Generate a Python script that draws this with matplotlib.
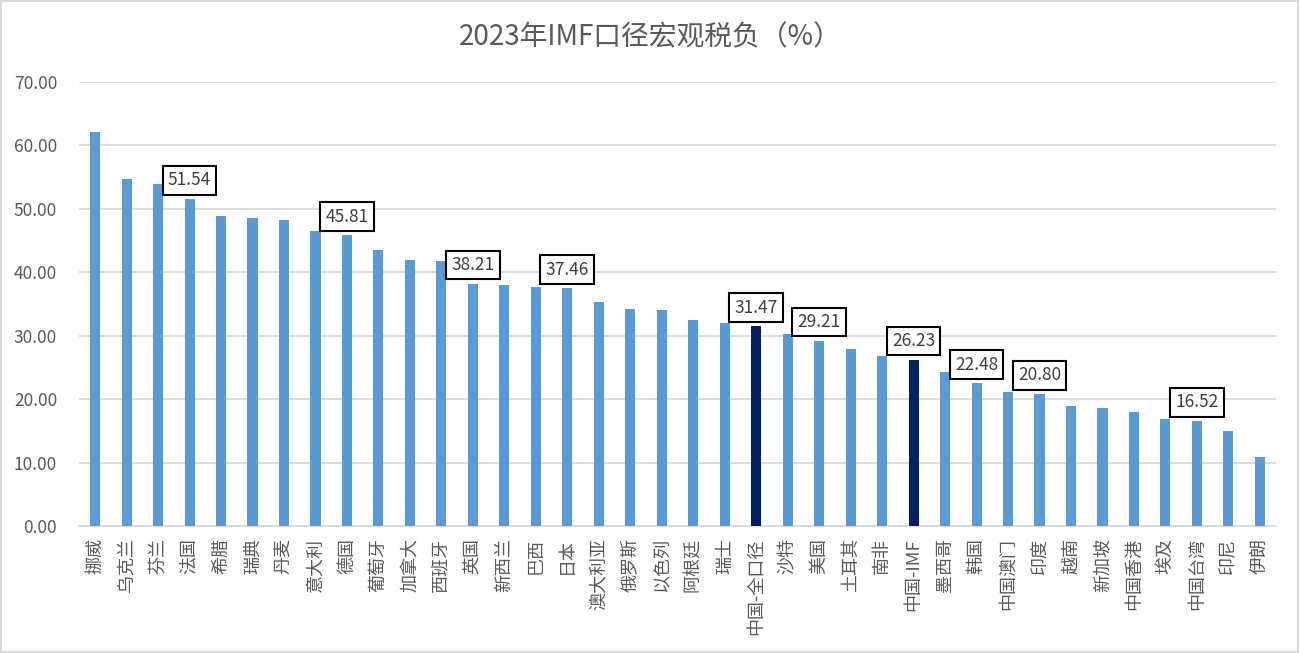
import numpy as np
import matplotlib.pyplot as plt
from matplotlib.patches import Rectangle

plt.rcParams['font.family'] = ['Noto Sans CJK SC', 'DejaVu Sans']

countries = ['挪威', '乌克兰', '芬兰', '法国', '希腊', '瑞典', '丹麦', '意大利', '德国',
             '葡萄牙', '加拿大', '西班牙', '英国', '新西兰', '巴西', '日本', '澳大利亚',
             '俄罗斯', '以色列', '阿根廷', '瑞士', '中国-全口径', '沙特', '美国', '土耳其',
             '南非', '中国-IMF', '墨西哥', '韩国', '中国澳门', '印度', '越南', '新加坡',
             '中国香港', '埃及', '中国台湾', '印尼', '伊朗']
tax_burden = [62.1, 54.7, 53.9, 51.54, 48.9, 48.6, 48.2, 46.5, 45.81,
              43.5, 41.9, 41.8, 38.21, 38.0, 37.7, 37.46, 35.3,
              34.2, 34.05, 32.5, 32.0, 31.47, 30.3, 29.21, 27.9,
              26.8, 26.23, 24.3, 22.48, 21.1, 20.80, 18.9, 18.6,
              18.0, 16.9, 16.52, 15.0, 10.9]
# which bars get a boxed value label
labelled = ['法国', '德国', '英国', '日本', '中国-全口径', '美国', '中国-IMF', '韩国', '印度', '中国台湾']
highlight = ['中国-全口径', '中国-IMF']

fig = plt.figure(figsize=(13.01, 6.53), dpi=100)
ax = fig.add_axes([0.061, 0.1945, 0.9195, 0.68])

x = np.arange(len(countries))
colors = ['#002060' if c in highlight else '#5b9bd5' for c in countries]
ax.bar(x, tax_burden, width=0.32, color=colors, zorder=3)

for i, c in enumerate(countries):
    if c in labelled:
        ax.annotate(f'{tax_burden[i]:.2f}', (x[i], tax_burden[i]), xytext=(0, 7),
                    textcoords='offset points', ha='center', va='bottom',
                    fontsize=12.5, color='#404040', zorder=5,
                    bbox=dict(boxstyle='square,pad=0.3', fc='white', ec='black', lw=1.5))

ax.set_xlim(-0.5, len(countries) - 0.5)
ax.set_ylim(0, 70)
ax.set_yticks(np.arange(0, 71, 10))
ax.set_yticklabels([f'{v:.2f}' for v in np.arange(0, 71, 10)])
ax.set_xticks(x)
ax.set_xticklabels(countries, rotation=90, ha='center', va='top')
ax.tick_params(axis='y', length=0, pad=16, labelsize=12.5, labelcolor='#595959')
ax.tick_params(axis='x', length=0, pad=9, labelsize=13, labelcolor='#595959')
ax.grid(axis='y', color='#d9d9d9', lw=1.3, zorder=0)
for s in ['top', 'right', 'left']:
    ax.spines[s].set_visible(False)
ax.spines['bottom'].set_color('#d9d9d9')
ax.spines['bottom'].set_linewidth(1.3)

fig.text(0.5, 0.943, '2023年IMF口径宏观税负（%）', ha='center', va='center',
         fontsize=20, color='#595959')
fig.patches.append(Rectangle((0.001, 0.002), 0.997, 0.996, transform=fig.transFigure,
                             fill=False, ec='#d9d9d9', lw=1.5))

fig.savefig('out.png', dpi=100)
